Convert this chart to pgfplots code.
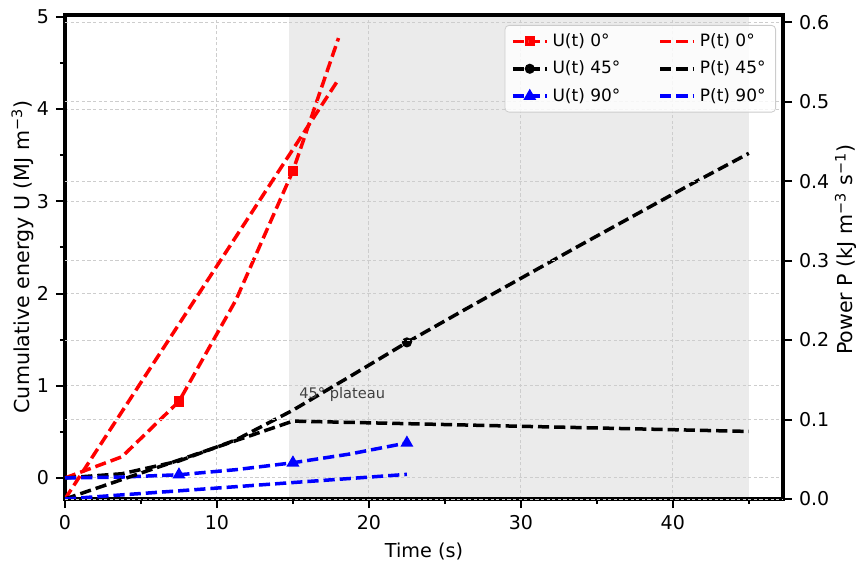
\documentclass[border=0pt]{standalone}
\usepackage{fontspec}
\setmainfont{DejaVu Sans}
\usepackage{pgfplots}
\pgfplotsset{compat=1.18}
\definecolor{gridc}{RGB}{205,205,205}
\definecolor{shadec}{RGB}{235,235,235}
\definecolor{legframe}{RGB}{204,204,204}
\definecolor{annot}{RGB}{64,64,64}
\tikzset{dsh/.style={line width=1.75bp, dash pattern=on 5.6bp off 2.5bp}}
\pgfplotsset{
  base/.style={
    scale only axis, width=359bp, height=242bp,
    xmin=0, xmax=47.25,
    axis line style={line width=1.6bp},
    every tick/.style={line width=1bp, black},
    major tick length=4.5bp, minor tick length=2.5bp,
    tick align=outside,
    /pgf/number format/assume math mode=true,
    ticklabel style={font=\fontsize{9.5bp}{11bp}\selectfont},
    xlabel style={font=\fontsize{9.6bp}{11.5bp}\selectfont},
    ylabel style={font=\fontsize{10.3bp}{12bp}\selectfont},
    grid style={gridc, line width=0.5bp, dash pattern=on 1.6bp off 1.2bp},
  },
}
\begin{document}
\begin{tikzpicture}
\path[use as bounding box] (-32.5bp,-31bp) rectangle (395.5bp,249.5bp);
% shaded plateau region
\begin{axis}[base, hide axis, ymin=0, ymax=1]
\addplot[fill=shadec, draw=none] coordinates {(14.75,0) (45,0) (45,1) (14.75,1)} -- cycle;
\end{axis}
% left axis: cumulative energy
\begin{axis}[base, ymin=-0.228, ymax=5.02,
  xtick={0,10,20,30,40}, minor xtick={5,15,25,35,45},
  ytick={0,1,2,3,4,5}, minor ytick={0.5,1.5,2.5,3.5,4.5},
  xtick pos=left, ytick pos=left,
  xmajorgrids, ymajorgrids,
  xlabel={Time (s)},
  ylabel={Cumulative energy U (MJ m\textsuperscript{−3})},
  xlabel style={at={(axis description cs:0.5,0)}, anchor=center, yshift=-26bp},
  ylabel style={at={(axis description cs:-0.0592,0.5)}, anchor=center},
]
\addplot[red, dsh, mark=square*, mark size=1.7bp, mark options={solid}, mark indices={3,5}]
  coordinates {(0,0) (3.75,0.23) (7.5,0.83) (11.25,1.93) (15,3.33) (18,4.77)};
\addplot[black, dsh, mark=*, mark size=1.6bp, mark options={solid}, mark indices={7}]
  coordinates {(0,0) (3.75,0.046) (7.5,0.184) (11.25,0.413) (15,0.735) (18.75,1.10) (22.5,1.47)
               (26.25,1.82) (30,2.165) (33.75,2.51) (37.5,2.85) (41.25,3.19) (45,3.52)};
\addplot[blue, dsh, mark=triangle*, mark size=2bp, mark options={solid}, mark indices={3,5,7}]
  coordinates {(0,0) (3.75,0.01) (7.5,0.035) (11.25,0.09) (15,0.165) (18.75,0.26) (22.5,0.38)};
\node[anchor=base west, text=annot, font=\fontsize{7.3bp}{9bp}\selectfont, inner sep=0pt]
  at (axis cs:15.4,0.86) {45° plateau};
\end{axis}
% right axis: power
\begin{axis}[base, ymin=0, ymax=0.609,
  axis x line=none, axis y line*=right, tick align=outside,
  ytick={0,0.1,0.2,0.3,0.4,0.5,0.6},
  yticklabel style={/pgf/number format/.cd, fixed, fixed zerofill, precision=1},
  ymajorgrids,
  ylabel={Power P (kJ m\textsuperscript{−3} s\textsuperscript{−1})},
  ylabel style={at={(axis description cs:1.0877,0.515)}, anchor=center},
  legend columns=2, legend cell align=left,
  legend style={at={(1,1)}, anchor=north east, xshift=-3.5bp, yshift=-5bp,
    draw=legframe, rounded corners=2bp, fill=white, fill opacity=0.8, text opacity=1,
    font=\fontsize{8.5bp}{10bp}\selectfont, row sep=1.8bp,
    /tikz/every even column/.append style={column sep=17bp}},
]
\addlegendimage{red, dsh, mark=square*, mark size=1.7bp, mark options={solid}}
\addlegendentry{U(t) 0°}
\addplot[red, dsh] coordinates {(0,0) (3.75,0.110) (7.5,0.220) (11.25,0.330) (15,0.440) (18,0.528)};
\addlegendentry{P(t) 0°}
\addlegendimage{black, dsh, mark=*, mark size=1.6bp, mark options={solid}}
\addlegendentry{U(t) 45°}
\addplot[black, dsh] coordinates {(0,0) (3.75,0.0245) (7.5,0.049) (11.25,0.0735) (15,0.098)
  (22.5,0.0948) (30,0.0915) (37.5,0.0883) (45,0.085)};
\addlegendentry{P(t) 45°}
\addlegendimage{blue, dsh, mark=triangle*, mark size=2bp, mark options={solid}}
\addlegendentry{U(t) 90°}
\addplot[blue, dsh] coordinates {(0,0) (3.75,0.0052) (7.5,0.0103) (11.25,0.0155) (15,0.0207) (18.75,0.0258) (22.5,0.031)};
\addlegendentry{P(t) 90°}
\end{axis}
\end{tikzpicture}
\end{document}
